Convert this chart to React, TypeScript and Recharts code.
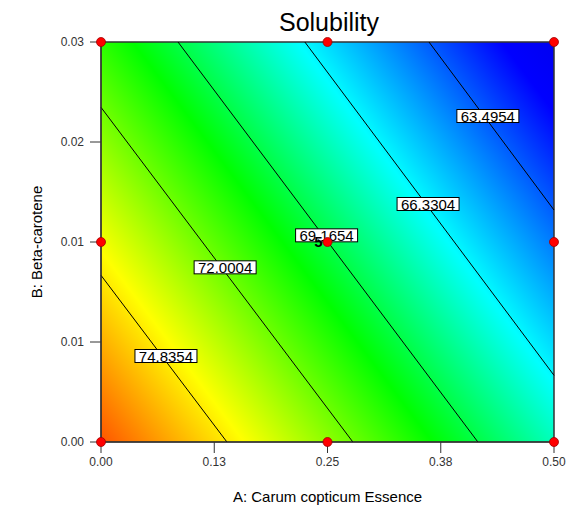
import React from "react";
import {
  ComposedChart,
  XAxis,
  YAxis,
  Scatter,
  ReferenceArea,
  ReferenceLine,
  Label,
} from "recharts";

// ---- data ----
const xTicks = [0, 0.125, 0.25, 0.375, 0.5];
const yTicks = [0, 0.0075, 0.015, 0.0225, 0.03];

const designA = [0, 0.25, 0.5, 0, 0.25, 0.5, 0, 0.25, 0.5];
const designB = [0, 0, 0, 0.015, 0.015, 0.015, 0.03, 0.03, 0.03];
const designReps = [1, 1, 1, 1, 5, 1, 1, 1, 1];

const contourLevels = [74.8354, 72.0004, 69.1654, 66.3304, 63.4954];
const contourStartA = [0, 0, 0.085, 0.225, 0.362];
const contourStartB = [0.0125, 0.0251, 0.03, 0.03, 0.03];
const contourEndA = [0.139, 0.278, 0.416, 0.5, 0.5];
const contourEndB = [0, 0, 0, 0.005, 0.0174];
const labelA = [0.0717, 0.137, 0.249, 0.361, 0.427];
const labelB = [0.00645, 0.0131, 0.0155, 0.01785, 0.02445];

const designPoints = designA.map((a, i) => ({ a, b: designB[i], n: designReps[i] }));
const contourLabels = contourLevels.map((v, i) => ({
  a: labelA[i],
  b: labelB[i],
  text: v.toFixed(4),
}));

const FONT = "Arial, 'Liberation Sans', sans-serif";

const LabelBox = (props: any) => {
  const { cx, cy, payload } = props;
  if (cx == null || cy == null) return null;
  return (
    <g>
      <rect x={cx - 31} y={cy - 6.5} width={62} height={13} fill="#ffffff" stroke="#000000" strokeWidth={1} />
      <text x={cx} y={cy + 5.5} textAnchor="middle" fontSize={15} fontFamily={FONT} fill="#000">
        {payload.text}
      </text>
    </g>
  );
};

const DesignDot = (props: any) => {
  const { cx, cy, payload } = props;
  if (cx == null || cy == null) return null;
  return (
    <g>
      {payload.n > 1 ? (
        <text x={cx - 5} y={cy + 5} textAnchor="end" fontSize={15} fontWeight="bold" fontFamily={FONT} fill="#000">
          {payload.n}
        </text>
      ) : null}
      <circle cx={cx} cy={cy} r={4.5} fill="#ff0000" stroke="#a00000" strokeWidth={0.8} />
    </g>
  );
};

export default function App() {
  return (
    <div style={{ position: "absolute", left: 0, top: 0, width: 566, height: 531, background: "#fff" }}>
      <div
        style={{
          position: "absolute",
          left: 0,
          top: 8,
          width: 658,
          textAlign: "center",
          fontFamily: FONT,
          fontSize: 25,
          lineHeight: "29px",
          color: "#000",
          whiteSpace: "nowrap",
        }}
      >
        Solubility
      </div>
      <ComposedChart width={566} height={531} margin={{ top: 42, right: 12, bottom: 0, left: 0 }}>
        <defs>
          <linearGradient id="solGrad" x1="0" y1="1" x2="1.156" y2="0.235">
            <stop offset="0" stopColor="#ff5500" />
            <stop offset="0.19" stopColor="#ffff00" />
            <stop offset="0.44" stopColor="#00ff00" />
            <stop offset="0.66" stopColor="#00ffff" />
            <stop offset="0.93" stopColor="#0000ff" />
            <stop offset="1" stopColor="#0000f0" />
          </linearGradient>
        </defs>
        <XAxis
          dataKey="a"
          type="number"
          domain={[0, 0.5]}
          ticks={xTicks}
          tickFormatter={(v: number) => v.toFixed(2)}
          height={89}
          tickSize={11}
          tickMargin={4}
          stroke="#333"
          tick={{ fill: "#333", fontSize: 12, fontFamily: FONT }}
        >
          <Label
            value="A: Carum copticum Essence"
            position="insideBottom"
            offset={29}
            style={{ fontSize: 15, fontFamily: FONT, fill: "#000" }}
          />
        </XAxis>
        <YAxis
          dataKey="b"
          type="number"
          domain={[0, 0.03]}
          ticks={yTicks}
          tickFormatter={(v: number) => v.toFixed(2)}
          width={101}
          tickSize={11}
          tickMargin={6}
          stroke="#333"
          tick={{ fill: "#333", fontSize: 12, fontFamily: FONT }}
        >
          <Label
            content={(p: any) => {
              const vb = p.viewBox || { x: 0, y: 42, width: 101, height: 400 };
              const x = vb.x + 42;
              const y = vb.y + vb.height / 2;
              return (
                <text
                  x={x}
                  y={y}
                  transform={`rotate(-90 ${x} ${y})`}
                  textAnchor="middle"
                  fontSize={15}
                  fontFamily={FONT}
                  fill="#000"
                >
                  B: Beta-carotene
                </text>
              );
            }}
          />
        </YAxis>
        <ReferenceArea x1={0} x2={0.5} y1={0} y2={0.03} fill="url(#solGrad)" fillOpacity={1} stroke="none" />
        {contourLevels.map((lv, i) => (
          <ReferenceLine
            key={lv}
            segment={[
              { x: contourStartA[i], y: contourStartB[i] },
              { x: contourEndA[i], y: contourEndB[i] },
            ]}
            stroke="#000"
            strokeWidth={1}
          />
        ))}
        <ReferenceArea x1={0} x2={0.5} y1={0} y2={0.03} fill="none" stroke="#333" strokeWidth={1.5} />
        <Scatter data={contourLabels} dataKey="b" shape={LabelBox} isAnimationActive={false} />
        <Scatter data={designPoints} dataKey="b" shape={DesignDot} isAnimationActive={false} />
      </ComposedChart>
    </div>
  );
}
